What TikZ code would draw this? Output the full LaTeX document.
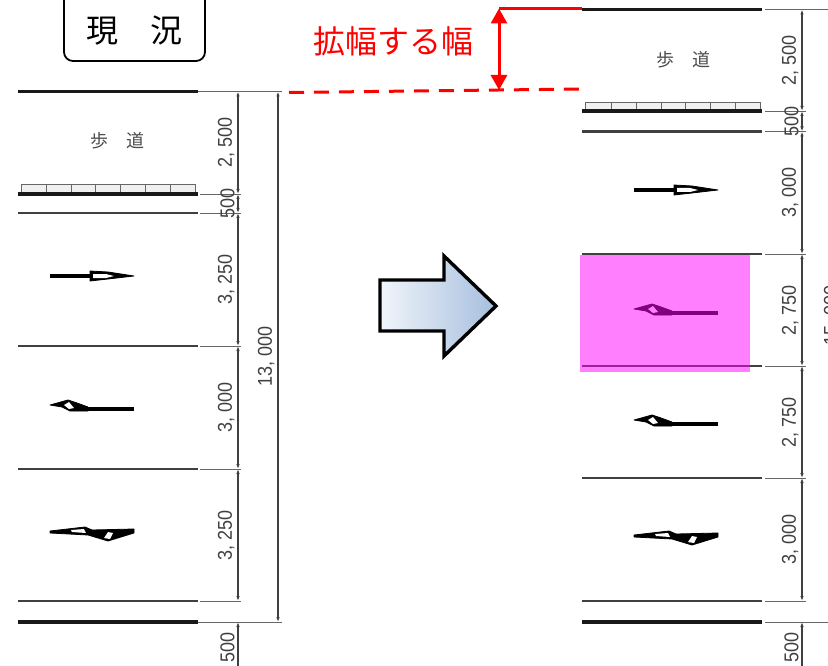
\documentclass[tikz,border=0pt]{standalone}
\usepackage{fontspec}
\setmainfont{Liberation Sans}
\newfontfamily\jpfont{Noto Sans CJK JP}
\newfontfamily\dimfont[FakeStretch=0.9]{Liberation Sans}
\usetikzlibrary{positioning, arrows.meta}
\definecolor{redline}{RGB}{255,0,0}
\definecolor{arrowleft}{RGB}{240,245,250}
\definecolor{arrowright}{RGB}{166,190,222}
\definecolor{widened}{RGB}{255,0,255}
\tikzset{
	wall/.style={line width=3.6pt,black!90},
	lane/.style={line width=2.2pt,black!75},
	extline/.style={line width=.9pt,black!60},
	dimline/.style={line width=1.1pt,black!75,{Latex[length=5pt,width=3.5pt]}-{Latex[length=5pt,width=3.5pt]}},
	dimtext/.style={rotate=90,anchor=south,yshift=3pt,inner sep=0pt,text=black!75,font=\dimfont\fontsize{20}{20}\selectfont},
	walktext/.style={inner sep=0pt,text=black!70,font=\jpfont\fontsize{18}{18}\selectfont},
	fence/.style={line width=1pt,black!60,fill=black!6},
	glyph/.style={fill=black,draw=black,line width=.8pt,line join=round},
	hole/.style={fill=white,draw=none},
	pics/straightmark/.style={code={
		\draw[line width=4pt,black] (0,0) -- (41,0);
		\path[glyph] (40,-5) -- (58,-4) -- (84,0) -- (58,3) -- (40,5) -- cycle;
		\path[hole] (43,-2) -- (56,-2) -- (64,0) -- (56,2) -- (43,2) -- cycle;
	}},
	pics/turnmark/.style={code={
		\path[glyph] (0,-4) -- (18,-9) -- (27,-6) -- (38,-2) -- (38,2) -- (20,2) -- (12,-2) -- cycle;
		\draw[line width=4pt,black] (36,0) -- (84,0);
		\path[hole] (14,-4) -- (19,-7) -- (24,-1) -- (19,0) -- cycle;
	}},
	pics/mergemark/.style={code={
		\path[glyph] (0,-1) -- (35,-5) -- (42,-2) -- (84,-3) -- (84,1) -- (58,9) -- (38,3) -- (0,1) -- cycle;
		\path[hole] (21,-2) -- (34,-3) -- (36,1) -- (22,0) -- cycle;
		\path[hole] (54,6) -- (58,0) -- (63,1) -- (60,7) -- cycle;
	}},
}
\begin{document}
\begin{tikzpicture}[x=1pt,y=-1pt]
	\clip (0,0) rectangle (828,666);
	% current road
	\node[draw,line width=1.8pt,rounded corners=9pt,minimum width=141pt,minimum height=72pt,inner sep=0pt,
		font=\jpfont\fontsize{32}{32}\selectfont] (title) at (134.5,25) {\smash{\raisebox{-18pt}{現　況}}};
	\draw[fence] (21,184.5) rectangle (195,194);
	\foreach \x in {46,71,95,120,145,170}
		\draw[fence] (\x,184.5) -- (\x,194);
	\foreach \y/\kind in {91.5/wall,194/wall,213/lane,346/lane,469/lane,601/lane,622/wall}
	{
		\draw[\kind] (18,\y) -- (198,\y);
		\draw[extline] (200,\y) -- (241,\y);
	}
	\draw[extline] (198,91.5) -- (282,91.5);
	\draw[extline] (198,622) -- (282,622);
	\foreach \a/\b/\t in {91.5/194/{2, 500},194/213/500,213/346/{3, 250},346/469/{3, 000},469/601/{3, 250},622/672/500}
		\draw[dimline] (238,\a) -- node[dimtext] (ldim\a) {\t} (238,\b);
	\draw[dimline] (278,91.5) -- node[dimtext] (ltotal) {13, 000} (278,622);
	\node[walktext] (lwalk) at (117,141) {歩　道};
	\pic (larrowa) at (50,276) {straightmark};
	\pic (larrowb) at (50,409) {turnmark};
	\pic (larrowc) at (50,532) {mergemark};
	% widened road
	\draw[fence] (585,103) rectangle (760,111);
	\foreach \x in {611,636,661,685,710,735}
		\draw[fence] (\x,103) -- (\x,111);
	\foreach \y/\kind in {9.5/wall,111/wall,131.5/lane,254/lane,366/lane,478/lane,601/lane,622/wall}
	{
		\draw[\kind] (582,\y) -- (762,\y);
		\draw[extline] (765,\y) -- (806,\y);
	}
	\draw[extline] (765,9.5) -- (828,9.5);
	\draw[extline] (765,622) -- (828,622);
	\foreach \a/\b/\t in {9.5/111/{2, 500},111/131.5/500,131.5/254/{3, 000},254/366/{2, 750},366/478/{2, 750},478/601/{3, 000},622/672/500}
		\draw[dimline] (802,\a) -- node[dimtext] (rdim\a) {\t} (802,\b);
	\draw[dimline] (844,9.5) -- node[dimtext] (rtotal) {15, 000} (844,622);
	\node[walktext] (rwalk) at (683,60) {歩　道};
	\pic (rarrowa) at (634,190) {straightmark};
	\pic (rarrowb) at (634,313) {turnmark};
	\pic (rarrowc) at (634,424) {turnmark};
	\pic (rarrowd) at (634,536) {mergemark};
	% widened lane
	\fill[widened,fill opacity=.5] (580,255) rectangle (750,372);
	% big arrow
	\draw[line width=3.4pt,miter limit=6,left color=arrowleft,right color=arrowright]
		(380,280) -- (444,280) -- (444,256) -- (496,306) -- (444,356) -- (444,331) -- (380,331) -- cycle;
	% widening
	\coordinate (wtop) at (499,8.5);
	\coordinate (wbot) at (499,90);
	\coordinate (wright) at (582,8.5);
	\coordinate (dashl) at (289,92.5);
	\coordinate (dashr) at (582,89);
	\node[inner sep=0pt,text=redline,font=\jpfont\fontsize{32}{32}\selectfont] (wlabel) at (393,41) {拡幅する幅};
	\draw[redline,line width=3pt] (wtop) -- (wright);
	\draw[redline,line width=3pt,dash pattern=on 15pt off 10pt] (dashl) -- (dashr);
	\draw[redline,line width=3pt,{Triangle[length=15pt,width=16pt]}-{Triangle[length=15pt,width=16pt]}] (wtop) -- (wbot);
\end{tikzpicture}
\end{document}
